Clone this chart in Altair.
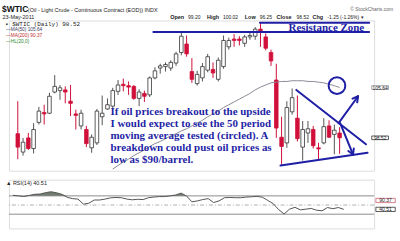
import altair as alt
import pandas as pd

# ---------------- data ----------------
idx = list(range(62))  # trading days 24-Feb-2011 .. 23-May-2011
opens = [99.1, 96.5, 98.5, 97.0, 100.7, 102.1, 102.0, 105.0, 105.2, 105.3,
         103.7, 101.9, 100.2, 99.7, 97.1, 97.8, 101.5, 102.6, 103.0, 105.1,
         106.1, 105.9, 105.8, 104.1, 104.8, 104.6, 107.0, 108.4, 108.6, 108.4,
         109.1, 110.6, 111.8, 107.9, 106.2, 107.0, 108.1, 108.2, 106.8, 108.6,
         111.4, 112.5, 112.5, 111.9, 112.8, 112.9, 113.9, 112.8, 110.6, 106.7,
         98.6, 97.8, 102.2, 101.3, 97.2, 99.2, 99.7, 97.1, 97.8, 100.2,
         99.0, 99.20]
highs = [103.7, 98.5, 99.2, 100.6, 102.9, 103.2, 104.9, 107.4, 106.0, 105.8,
         106.0, 102.5, 102.5, 100.2, 99.0, 102.6, 104.5, 104.1, 105.6, 106.7,
         106.9, 106.5, 106.0, 105.4, 105.2, 107.2, 108.5, 109.0, 109.2, 109.5,
         110.7, 113.4, 113.0, 109.8, 108.0, 109.1, 110.4, 109.2, 109.9, 113.0,
         112.7, 113.2, 112.9, 113.1, 113.5, 114.2, 114.8, 113.3, 111.0, 109.0,
         101.5, 103.7, 105.5, 104.5, 100.9, 100.9, 100.2, 97.8, 101.3, 101.0,
         100.4, 100.02]
lows = [95.5, 96.0, 96.8, 96.3, 100.4, 100.4, 101.9, 104.8, 103.9, 103.4,
        101.6, 99.7, 99.7, 97.2, 96.4, 97.5, 100.3, 102.5, 102.5, 104.6,
        105.1, 104.6, 103.9, 103.0, 103.6, 104.3, 106.8, 107.6, 107.9, 108.0,
        108.7, 110.2, 110.0, 106.3, 105.9, 106.5, 107.8, 107.0, 106.5, 108.3,
        111.0, 111.4, 111.6, 111.4, 112.4, 112.4, 111.4, 110.9, 108.7, 98.5,
        94.7, 97.1, 101.8, 98.0, 95.3, 97.8, 97.0, 95.5, 97.6, 98.5,
        96.2, 96.25]
closes = [97.2, 97.9, 97.0, 99.7, 102.3, 101.9, 104.4, 105.8, 105.6, 105.0,
          103.4, 101.7, 102.0, 97.7, 98.6, 102.3, 102.0, 103.2, 105.2, 106.0,
          105.9, 105.7, 104.1, 105.0, 104.4, 107.0, 108.0, 108.7, 108.9, 109.2,
          110.4, 112.9, 110.4, 106.8, 107.5, 108.6, 110.0, 107.7, 109.5, 112.3,
          112.3, 112.3, 112.3, 112.8, 113.0, 113.9, 113.5, 111.2, 109.4, 99.9,
          97.3, 102.8, 104.2, 98.4, 99.7, 99.8, 97.4, 96.95, 100.1, 98.6,
          99.6, 98.52]
rsi = [71.3, 70.0, 68.5, 71.0, 73.5, 74.0, 77.0, 79.0, 77.0, 73.5,
       67.0, 64.0, 63.0, 52.0, 54.0, 61.0, 61.0, 63.0, 65.7, 66.5,
       66.0, 63.0, 61.5, 62.5, 62.0, 66.0, 67.5, 68.5, 68.5, 70.0,
       72.0, 76.0, 70.0, 57.0, 59.0, 62.0, 64.0, 55.5, 59.0, 66.0,
       66.5, 66.0, 66.0, 67.5, 68.0, 69.0, 67.0, 60.0, 53.0, 40.0,
       30.5, 41.0, 45.0, 39.5, 41.0, 42.5, 38.7, 37.5, 44.6, 42.0,
       44.6, 40.51]
ma50_idx = list(range(18, 62))
ma50 = [94.1, 94.6, 95.1, 95.5, 96.0, 96.4, 96.8, 97.3, 97.7, 98.0,
        98.4, 98.8, 99.1, 99.5, 99.8, 100.2, 100.6, 101.0, 101.5, 101.9,
        102.3, 102.8, 103.2, 103.6, 104.0, 104.4, 104.8, 105.3, 105.7, 106.0,
        106.3, 106.4, 106.5, 106.5, 106.6, 106.6, 106.6, 106.5, 106.5, 106.4,
        106.3, 106.1, 105.9, 105.64]
tick_idx = [2, 3, 7, 12, 17, 22, 26, 27, 32, 37, 41, 46, 51, 56, 61, 66]
tick_labels = ["", "Mar", "7", "14", "21", "28", "Apr", "", "11", "18", "25",
               "May", "9", "16", "23", "31"]
month_idx = [3, 26, 46]
price_ticks = [96, 98, 100, 102, 104, 106, 108, 110, 112, 114]
hidden_price_ticks = [98, 106]
rsi_ticks = [10, 30, 50, 70, 90]
hidden_rsi_ticks = [50]

# hand-drawn annotation strokes, in (trading day, price) units
seg_x1 = [52.8, 49.8, 60.8, 61.1, 25.7, 45.9, 64.5, 64.5, 63.54, 63.54]
seg_y1 = [105.3, 94.6, 100.6, 100.6, 113.5, 114.8, 104.4, 104.4, 96.16, 96.16]
seg_x2 = [66.0, 66.3, 64.5, 63.54, 66.6, 66.6, 63.45, 64.33, 63.69, 62.66]
seg_y2 = [97.6, 96.4, 104.4, 96.16, 113.5, 114.8, 104.06, 103.55, 97.0, 96.66]
circle_x = [60.5]
circle_y = [105.9]

note_lines = ["If oil prices breakout to the upside",
              "I would expect to see the 50 period",
              "moving average tested (circled). A",
              "breakdown could pust oil prices as",
              "low as $90/barrel."]

# ---------------- styling ----------------
W, H1, H2 = 367, 151, 49
FONT = "Liberation Sans"
SERIF = "Liberation Serif"
RED = "#d0103a"
BLUE = "#1f1fa6"
GRID = "#e2e2e2"

xsc = alt.Scale(domain=[-0.73, 66.6], nice=False, zero=False)
psc = alt.Scale(domain=[93.86, 115.13], nice=False, zero=False)
rsc = alt.Scale(domain=[-1.1, 105.4], nice=False, zero=False)

label_map = "{" + ",".join(f"'{t}':'{l}'" for t, l in zip(tick_idx, tick_labels)) + "}"
bold_test = "indexof(" + str(month_idx) + ", datum.value) >= 0"


def xaxis(pad):
    return alt.Axis(values=tick_idx, labelExpr=label_map + "[datum.value]",
                    grid=True, gridColor=GRID, ticks=False, domain=False,
                    labelFont=FONT, labelFontSize=5.5, labelColor="#222",
                    labelPadding=pad, title=None, labelFlush=False,
                    labelFontWeight={"condition": {"test": bold_test, "value": "bold"},
                                     "value": "normal"})


def yaxis(vals, hidden):
    return alt.Axis(values=vals, orient="right", grid=True, gridColor=GRID,
                    ticks=False, domain=False, labelFont=FONT, labelFontSize=5.5,
                    labelColor="#222", labelPadding=2.5, title=None,
                    labelExpr="indexof(" + str(hidden) + ", datum.value) >= 0 ? '' : datum.label")


def txt(s, x, y, size=5.5, weight="normal", color="#222", font=FONT,
        align="left", baseline="alphabetic"):
    return alt.Chart(pd.DataFrame({"t": [s]})).mark_text(
        font=font, fontSize=size, fontWeight=weight, color=color,
        align=align, baseline=baseline).encode(
        text="t:N", x=alt.value(x), y=alt.value(y))


df = pd.DataFrame({"i": idx, "o": opens, "h": highs, "l": lows, "c": closes, "rsi": rsi})
up = "datum.c >= datum.o"

frame = alt.Chart(df).mark_rule(opacity=0).encode(
    x=alt.X("i:Q", scale=xsc, axis=xaxis(1.5)),
    y=alt.Y("c:Q", scale=psc, axis=yaxis(price_ticks, hidden_price_ticks)))

wick = alt.Chart(df).mark_rule(strokeWidth=1).encode(
    x=alt.X("i:Q", scale=xsc, axis=None),
    y=alt.Y("l:Q", scale=psc, axis=None), y2="h:Q",
    color=alt.condition(up, alt.value("#555"), alt.value(RED)))

body = alt.Chart(df).mark_bar(size=3.6, strokeWidth=0.8).encode(
    x=alt.X("i:Q", scale=xsc, axis=None),
    y=alt.Y("o:Q", scale=psc, axis=None), y2="c:Q",
    fill=alt.condition(up, alt.value("white"), alt.value(RED)),
    stroke=alt.condition(up, alt.value("#333"), alt.value(RED)))

ma_df = pd.DataFrame({"i": ma50_idx, "ma": ma50})
ma_line = alt.Chart(ma_df).mark_line(color="#8a8a96", strokeWidth=1).encode(
    x=alt.X("i:Q", scale=xsc, axis=None), y=alt.Y("ma:Q", scale=psc, axis=None))

seg_df = pd.DataFrame({"x1": seg_x1, "y1": seg_y1, "x2": seg_x2, "y2": seg_y2})
segs = alt.Chart(seg_df).mark_rule(color=BLUE, strokeWidth=2, strokeCap="round").encode(
    x=alt.X("x1:Q", scale=xsc, axis=None), x2="x2:Q",
    y=alt.Y("y1:Q", scale=psc, axis=None), y2="y2:Q")

circ = alt.Chart(pd.DataFrame({"x": circle_x, "y": circle_y})).mark_point(
    shape="circle", size=280, filled=False, stroke=BLUE, strokeWidth=2, opacity=1).encode(
    x=alt.X("x:Q", scale=xsc, axis=None), y=alt.Y("y:Q", scale=psc, axis=None))

box = "M-1,-0.22L1,-0.22L1,0.22L-1,0.22Z"
pbox_df = pd.DataFrame({"y": [105.64, 98.52], "t": ["105.64", "98.52"],
                        "s": ["#8a8a96", "#333"]})
pbox = alt.Chart(pbox_df).mark_point(shape=box, size=280, filled=True, fill="white",
                                     strokeWidth=0.8, opacity=1).encode(
    x=alt.value(W + 6), y=alt.Y("y:Q", scale=psc, axis=None),
    stroke=alt.Color("s:N", scale=None))
ptxt = alt.Chart(pbox_df).mark_text(font=FONT, fontSize=5, color="#222").encode(
    x=alt.value(W + 6), y=alt.Y("y:Q", scale=psc, axis=None), text="t:N")

note = alt.Chart(pd.DataFrame({"t": [note_lines]})).mark_text(
    font=SERIF, fontSize=11, fontWeight="bold", color=BLUE, align="left",
    baseline="middle", lineHeight=12.2).encode(text="t", x=alt.value(102), y=alt.value(91.5))

price = alt.layer(
    frame, wick, body, ma_line, segs, circ, note,
    txt("Resistance Zone", 319, 7.5, size=11, weight="bold", color=BLUE, font=SERIF,
        align="center", baseline="middle"),
    pbox, ptxt,
    # header
    txt("$WTIC", -7, -9, size=8.5, weight="bold", color="#111"),
    txt("(Oil - Light Crude - Continuous Contract (EOD))  INDX", 19, -9, size=5.5),
    txt("© StockCharts.com", 386, -10, size=5, color="#666", align="right"),
    txt("23-May-2011", -6.5, -1.5, size=5.5),
    txt("Open", 162, -1.5, size=5.5, weight="bold"),
    txt("99.20", 180, -1.5, size=5),
    txt("High", 199, -1.5, size=5.5, weight="bold"),
    txt("100.02", 215, -1.5, size=5),
    txt("Low", 237, -1.5, size=5.5, weight="bold"),
    txt("96.25", 252, -1.5, size=5),
    txt("Close", 269, -1.5, size=5.5, weight="bold"),
    txt("98.52", 289, -1.5, size=5),
    txt("Chg", 305, -1.5, size=5.5, weight="bold"),
    txt("-1.25 (-1.26%) ▾", 320, -1.5, size=5),
    # legend
    txt("▪ $WTIC (Daily) 98.52", -4, 5.5, size=6, color="#222", font="Liberation Mono"),
    txt("—MA(50) 105.64", -3, 11, size=4.8, color="#3a3a5a"),
    txt("—MA(200) 90.37", -3, 16.8, size=4.8, color="#c03030"),
    txt("—HL(20,0)", -3, 22.6, size=4.8, color="#2a8a2a"),
).properties(width=W, height=H1)

# ---------------- RSI panel ----------------
rframe = alt.Chart(df).mark_line(color="#555", strokeWidth=1).encode(
    x=alt.X("i:Q", scale=xsc, axis=xaxis(3)),
    y=alt.Y("rsi:Q", scale=rsc, axis=yaxis(rsi_ticks, hidden_rsi_ticks)))
rarea = alt.Chart(df).transform_calculate(
    top="max(datum.rsi, 70)", base="70").mark_area(color="#667566", opacity=0.95).encode(
    x=alt.X("i:Q", scale=xsc, axis=None),
    y=alt.Y("top:Q", scale=rsc, axis=None), y2="base:Q")
lvl = alt.Chart(pd.DataFrame({"v": [70, 30]})).mark_rule(color="#8c8c8c", strokeWidth=1).encode(
    y=alt.Y("v:Q", scale=rsc, axis=None))
mid = alt.Chart(pd.DataFrame({"v": [50]})).mark_rule(
    color="#9a9a9a", strokeWidth=0.8, strokeDash=[4, 2, 1, 2]).encode(
    y=alt.Y("v:Q", scale=rsc, axis=None))

rbox_df = pd.DataFrame({"y": [60.0, 40.51], "t": ["90.37", "40.51"], "s": ["#d06070", "#333"]})
rbox = alt.Chart(rbox_df).mark_point(shape=box, size=380, filled=True, fill="white",
                                     strokeWidth=0.8, opacity=1).encode(
    x=alt.value(W + 11.5), y=alt.Y("y:Q", scale=rsc, axis=None),
    stroke=alt.Color("s:N", scale=None))
rtxt = alt.Chart(rbox_df).mark_text(font=FONT, fontSize=5, color="#222").encode(
    x=alt.value(W + 11.5), y=alt.Y("y:Q", scale=rsc, axis=None), text="t:N")

rsi_panel = alt.layer(
    rarea, lvl, mid, rframe, rbox, rtxt,
    txt("▲ RSI(14) 40.51", -3, 5.5, size=5.5, color="#222"),
).properties(width=W, height=H2)

chart = alt.vconcat(price, rsi_panel, spacing=9, bounds="flush").properties(
    padding={"left": 1, "top": 3, "right": 2, "bottom": 2}
).configure_view(stroke="#a0a0a0", strokeWidth=1).configure(background="white")

chart.save("out.html", embed_options={"renderer": "svg", "actions": False})
